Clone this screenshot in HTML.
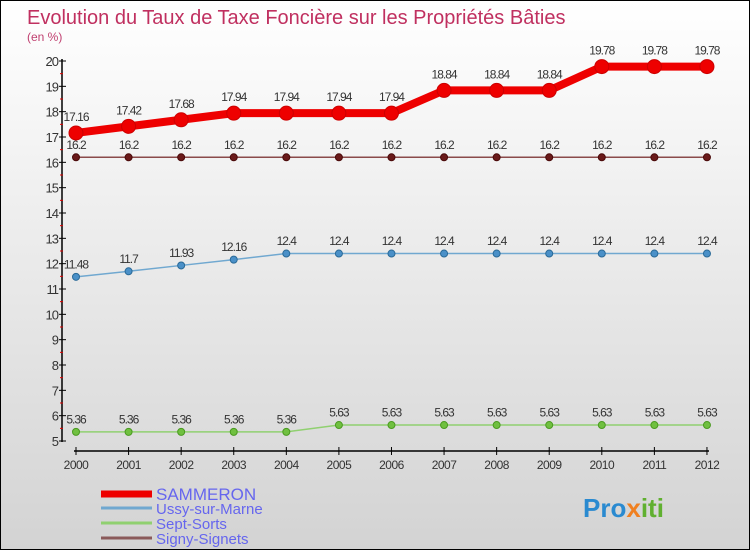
<!DOCTYPE html>
<html><head><meta charset="utf-8"><style>
body{margin:0}
#c{width:748px;height:548px;border:1px solid #000;background:linear-gradient(#ffffff,#d3d3d3);position:relative;font-family:"Liberation Sans",sans-serif;overflow:hidden}
</style></head><body>
<div id="c">
<svg id="s" width="748" height="548" xmlns="http://www.w3.org/2000/svg" style="position:absolute;left:0;top:0">
<text x="26" y="23" font-size="20" fill="#c03060">Evolution du Taux de Taxe Foncière sur les Propriétés Bâties</text>
<text x="26" y="40" font-size="12" fill="#c04070">(en %)</text>
<g id="axes"></g><g id="series"></g><g id="legend"></g>
<text x="582" y="516" font-size="26" font-weight="bold" fill="#2a8ad0">Pro<tspan fill="#f08020">x</tspan><tspan fill="#60b030">iti</tspan></text>
</svg></div>
<script>
const years=[2000,2001,2002,2003,2004,2005,2006,2007,2008,2009,2010,2011,2012];
const sammeron=[17.16,17.42,17.68,17.94,17.94,17.94,17.94,18.84,18.84,18.84,19.78,19.78,19.78];
const ussy=[11.48,11.7,11.93,12.16,12.4,12.4,12.4,12.4,12.4,12.4,12.4,12.4,12.4];
const sept=[5.36,5.36,5.36,5.36,5.36,5.63,5.63,5.63,5.63,5.63,5.63,5.63,5.63];
const signy=[16.2,16.2,16.2,16.2,16.2,16.2,16.2,16.2,16.2,16.2,16.2,16.2,16.2];
const yTicks=[5,6,7,8,9,10,11,12,13,14,15,16,17,18,19,20];
const seriesNames=["SAMMERON","Ussy-sur-Marne","Sept-Sorts","Signy-Signets"];
const NS="http://www.w3.org/2000/svg";
const X=i=>75+i*52.58, Y=v=>440-(v-5)*(380/15);
function mk(t,a,p){const e=document.createElementNS(NS,t);for(const k in a)e.setAttribute(k,a[k]);p.appendChild(e);return e;}
const ax=document.getElementById('axes');
let l=mk('line',{x1:61,y1:58,x2:61,y2:441,stroke:'#000','stroke-width':1.5},ax);


l=mk('line',{x1:73,y1:450,x2:708,y2:450,stroke:'#000','stroke-width':1.5},ax);


yTicks.forEach(v=>{
 mk('line',{x1:58,y1:Y(v),x2:65,y2:Y(v),stroke:'#000'},ax);
 if(v<20) mk('line',{x1:59,y1:Y(v+0.5),x2:62,y2:Y(v+0.5),stroke:'#e00000'},ax);
 const t=mk('text',{x:57,y:Y(v)+5,'font-size':13,'text-anchor':'end',fill:'#333','letter-spacing':'-1'},ax);t.textContent=v;
 
 
});
years.forEach((yr,i)=>{
 mk('line',{x1:X(i),y1:446,x2:X(i),y2:454,stroke:'#000'},ax);
 const t=mk('text',{x:X(i),y:468,'font-size':12,'text-anchor':'middle',fill:'#333','letter-spacing':'-0.5'},ax);t.textContent=yr;
 
 
});
const sg=document.getElementById('series');
function draw(data,color,w,r,name,fill,stroke){
 const g=mk('g',{},sg);
 
 
 mk('polyline',{points:data.map((v,i)=>X(i)+','+Y(v)).join(' '),fill:'none',stroke:color,'stroke-width':w},g);
 data.forEach((v,i)=>{
  const c=mk('circle',{cx:X(i),cy:Y(v),r:r,fill:fill,stroke:stroke,'stroke-width':1},g);
  
  
  const t=mk('text',{x:X(i),y:Y(v)-(r+5),'font-size':12,'text-anchor':'middle',fill:'#333','letter-spacing':'-1'},g);t.textContent=v;
  
  
 });
}
draw(sept,'#90d070',1.5,3.5,'sept-sorts','#70c040','#4a9a20');
draw(ussy,'#70a8d0',1.5,3.5,'ussy-sur-marne','#4a90c8','#2a6a98');
draw(signy,'#8a4a4a',1.5,3.5,'signy-signets','#6a1a1a','#4a0a0a');
draw(sammeron,'#ee0000',8,7,'sammeron','#ee0000','#cc0000');
const lg=document.getElementById('legend');
const lc=['#ee0000','#70a8d0','#90d070','#8a5a5a'],lw=[7,3,3,3],ly=[493,507,522,537],fs=[17,15,15,15];
seriesNames.forEach((n,i)=>{
 const g=mk('g',{},lg);
 
 
 mk('line',{x1:100,y1:ly[i],x2:151,y2:ly[i],stroke:lc[i],'stroke-width':lw[i]},g);
 const t=mk('text',{x:155,y:ly[i]+6,'font-size':fs[i],fill:'#6666ee'},g);t.textContent=n;
});
</script>
</body></html>
